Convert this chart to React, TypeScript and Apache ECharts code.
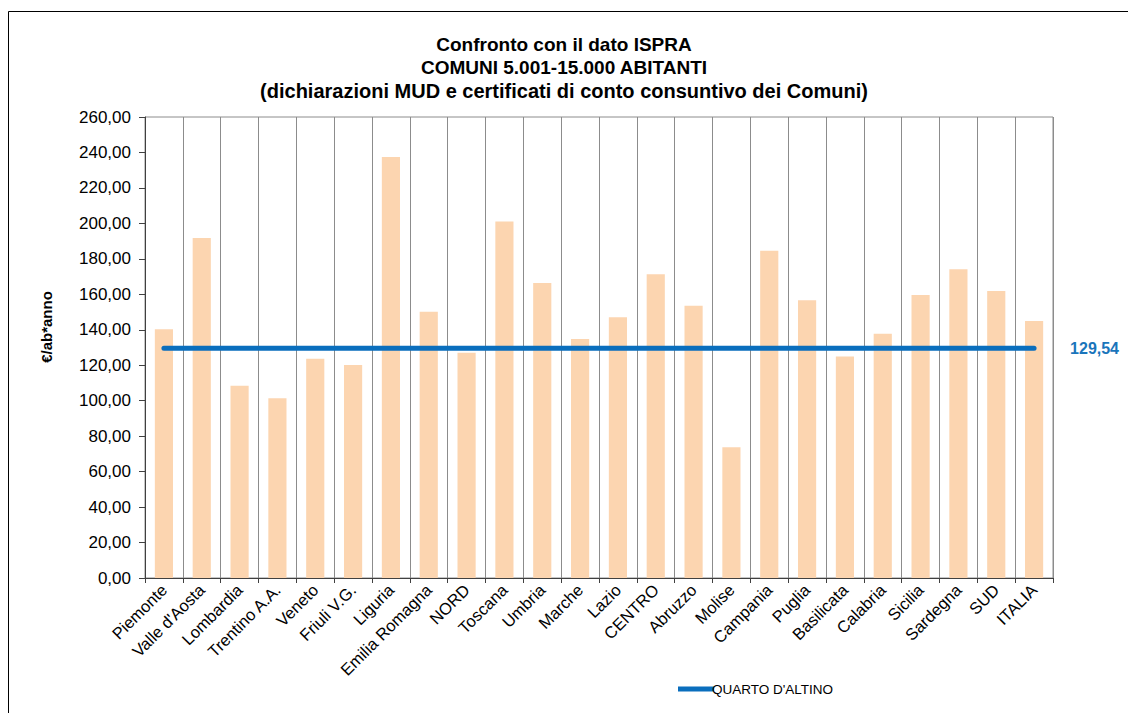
import React, { useEffect, useRef } from "react";
import * as echarts from "echarts";

const categories = [
  "Piemonte", "Valle d'Aosta", "Lombardia", "Trentino A.A.", "Veneto", "Friuli V.G.",
  "Liguria", "Emilia Romagna", "NORD", "Toscana", "Umbria", "Marche", "Lazio", "CENTRO",
  "Abruzzo", "Molise", "Campania", "Puglia", "Basilicata", "Calabria", "Sicilia",
  "Sardegna", "SUD", "ITALIA",
];
const ispraValues = [
  140.3, 191.8, 108.4, 101.4, 123.6, 120.2, 237.4, 150.2, 127.0, 201.0, 166.4, 134.8,
  147.0, 171.3, 153.6, 73.8, 184.6, 156.6, 124.9, 137.7, 159.6, 174.2, 161.9, 144.9,
];
const quartoValue = 129.54;
const quartoLine = categories.map(() => quartoValue);
const seriesNames = ["ISPRA", "QUARTO D'ALTINO"];
const yAxisTitle = "€/ab*anno";
const titleLines = [
  "Confronto con il dato ISPRA",
  "COMUNI 5.001-15.000 ABITANTI",
  "(dichiarazioni MUD e certificati di conto consuntivo dei Comuni)",
];

export default function App() {
  const ref = useRef<HTMLDivElement>(null);
  useEffect(() => {
    if (!ref.current) return;
    const chart = echarts.init(ref.current, null, { renderer: "svg" });
    const font = "Arial, 'Liberation Sans', sans-serif";
    chart.setOption({
      animation: false,
      backgroundColor: "#ffffff",
      textStyle: { fontFamily: font },
      title: {
        text: `{a|${titleLines[0]}}\n{a|${titleLines[1]}}\n{b|${titleLines[2]}}`,
        left: "center",
        top: 28,
        textStyle: {
          fontFamily: font,
          fontSize: 19,
          fontWeight: "bold",
          color: "#000",
          lineHeight: 23,
          rich: {
            a: { fontFamily: font, fontSize: 19, fontWeight: "bold", color: "#000", lineHeight: 23 },
            b: { fontFamily: font, fontSize: 20, fontWeight: "bold", color: "#000", lineHeight: 23 },
          },
        },
      },
      legend: {
        data: [seriesNames[1]],
        left: 673,
        top: 677,
        itemWidth: 36,
        itemHeight: 5,
        itemGap: 0,
        icon: "rect",
        textStyle: { fontFamily: font, fontSize: 13.5, color: "#000", padding: [0, 0, 0, -7] },
      },
      grid: {
        left: 145,
        right: 75,
        top: 117,
        bottom: 135,
        show: true,
        borderColor: "#8c8c8c",
        borderWidth: 1,
      },
      xAxis: {
        type: "category",
        data: categories,
        boundaryGap: true,
        axisLine: { lineStyle: { color: "#404040", width: 1 } },
        axisTick: { show: true, length: 5, lineStyle: { color: "#404040" } },
        splitLine: { show: true, lineStyle: { color: "#8c8c8c", width: 1 } },
        axisLabel: {
          rotate: 45,
          interval: 0,
          fontFamily: font,
          fontSize: 16.5,
          color: "#000",
          margin: 9,
        },
      },
      yAxis: {
        type: "value",
        min: 0,
        max: 260,
        interval: 20,
        axisLine: { show: true, lineStyle: { color: "#404040", width: 1 } },
        axisTick: { show: true, length: 6, lineStyle: { color: "#404040" } },
        splitLine: { show: false },
        axisLabel: {
          fontFamily: font,
          fontSize: 17,
          color: "#000",
          margin: 14,
          formatter: (v: number) => v.toFixed(2).replace(".", ","),
        },
      },
      series: [
        {
          name: seriesNames[0],
          type: "bar",
          data: ispraValues,
          barWidth: "48%",
          itemStyle: { color: "#FCD5B0" },
        },
        {
          name: seriesNames[1],
          type: "line",
          data: quartoLine,
          symbol: "none",
          lineStyle: { color: "#0A6EBD", width: 5, cap: "round" },
          itemStyle: { color: "#0A6EBD" },
          endLabel: {
            show: true,
            distance: 36,
            formatter: () => quartoValue.toFixed(2).replace(".", ","),
            fontFamily: font,
            fontSize: 16,
            fontWeight: "bold",
            color: "#1A75BB",
          },
        },
      ],
      graphic: [
        {
          type: "rect",
          silent: true,
          shape: { x: 8.5, y: 11.5, width: 1140, height: 720 },
          style: { fill: "none", stroke: "#000", lineWidth: 1 },
        },
        {
          type: "text",
          silent: true,
          x: 46,
          y: 327,
          rotation: Math.PI / 2,
          style: {
            text: yAxisTitle,
            fontFamily: font,
            fontSize: 15,
            fontWeight: "bold",
            fill: "#000",
            align: "center",
            verticalAlign: "middle",
          },
        },
      ],
    });
    return () => chart.dispose();
  }, []);
  return (
    <div
      ref={ref}
      style={{ position: "fixed", left: 0, top: 0, width: 1128, height: 713 }}
    />
  );
}
